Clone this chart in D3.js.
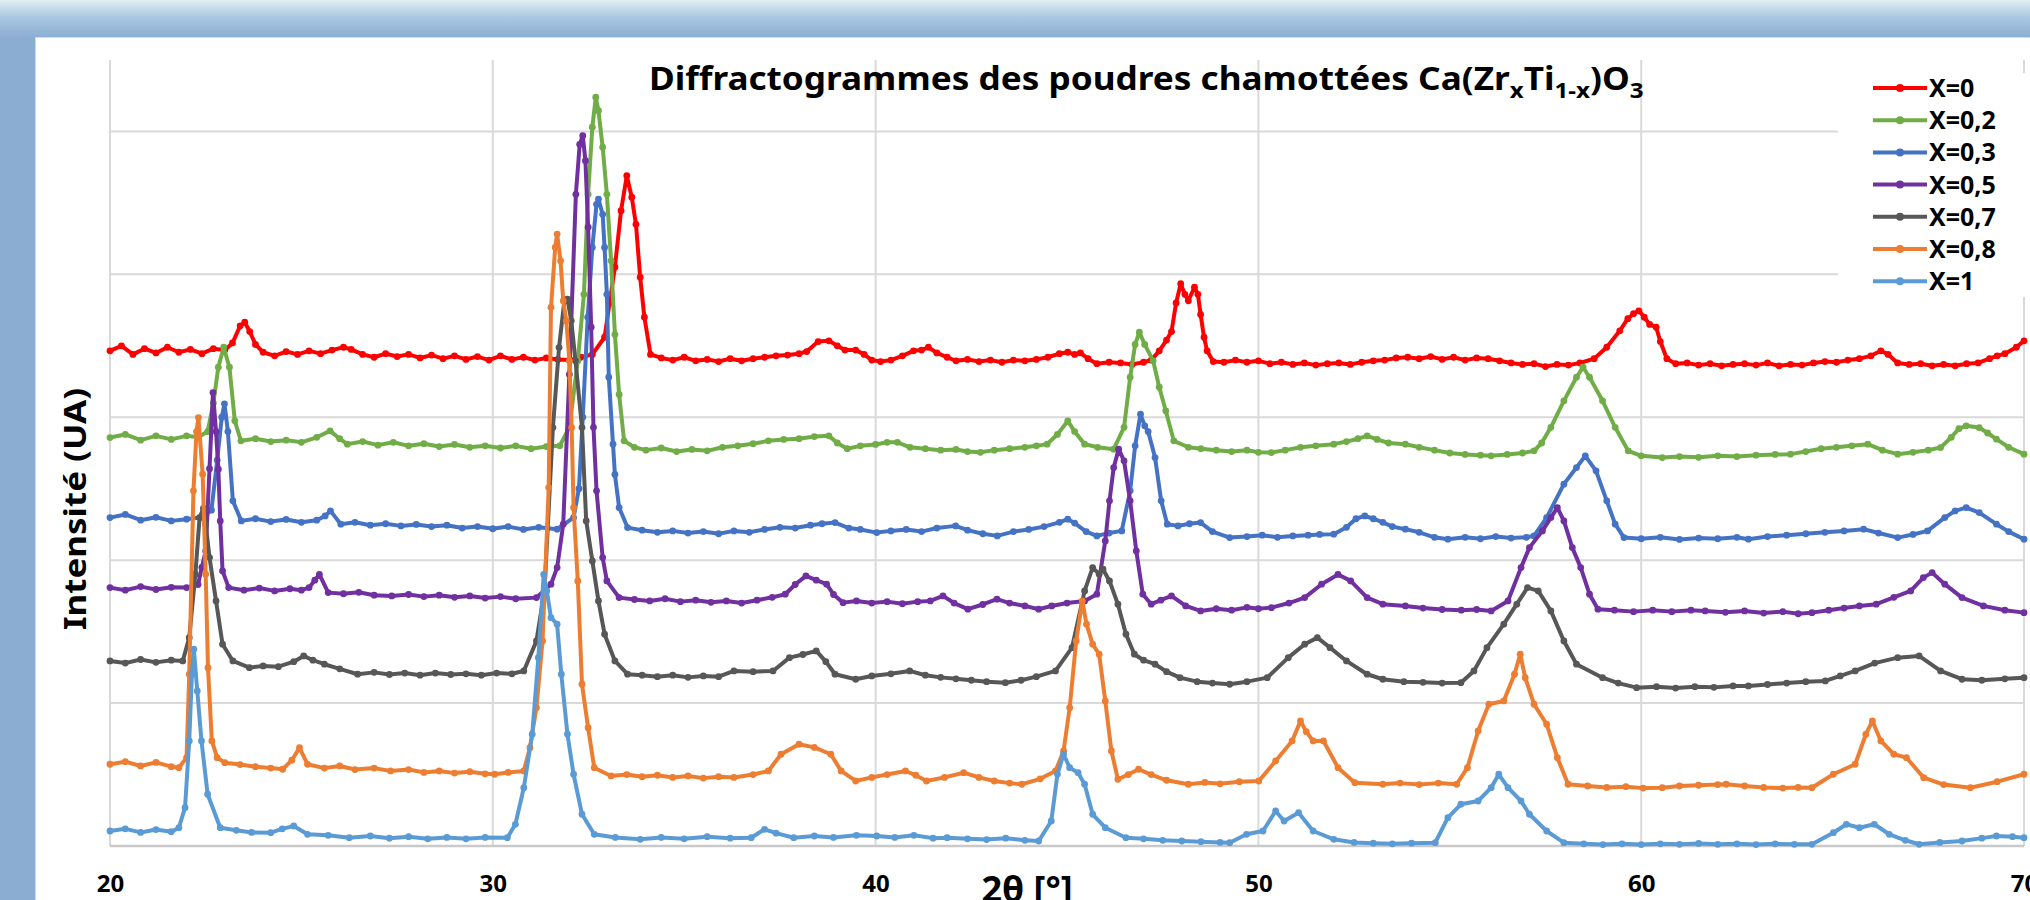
<!DOCTYPE html>
<html>
<head>
<meta charset="utf-8">
<script src="https://cdn.jsdelivr.net/npm/d3@7"></script>
<style>
  body { margin: 0; background: #8cadd2; }
  svg { display: block; }
  text { font-family: "Noto Sans", "Open Sans", sans-serif; }
</style>
</head>
<body>
<script>
// series labels + x tick values
var seriesLabels = ["X=0", "X=0,2", "X=0,3", "X=0,5", "X=0,7", "X=0,8", "X=1"];
var xTicks = [20, 30, 40, 50, 60, 70];

// [2theta, intensity (UA)]
var dataX0 = [[20.0,3465],[20.3,3500],[20.6,3440],[20.9,3480],[21.2,3450],[21.5,3490],[21.8,3455],[22.1,3475],[22.4,3445],[22.7,3480],[23.0,3470],[23.2,3520],[23.4,3640],[23.52,3665],[23.65,3600],[23.8,3510],[24.0,3455],[24.3,3430],[24.6,3460],[24.9,3440],[25.2,3465],[25.5,3445],[25.8,3470],[26.1,3490],[26.3,3475],[26.6,3440],[26.9,3420],[27.2,3445],[27.5,3425],[27.8,3440],[28.1,3415],[28.4,3435],[28.7,3410],[29.0,3430],[29.3,3405],[29.6,3425],[29.9,3400],[30.2,3430],[30.5,3405],[30.8,3420],[31.1,3400],[31.4,3415],[31.7,3405],[32.0,3400],[32.3,3420],[32.6,3440],[32.92,3560],[33.05,3800],[33.19,4050],[33.35,4445],[33.5,4690],[33.63,4540],[33.74,4350],[33.85,3980],[33.96,3700],[34.12,3440],[34.4,3415],[34.7,3400],[35.0,3420],[35.3,3395],[35.6,3405],[35.9,3390],[36.2,3410],[36.5,3395],[36.8,3410],[37.1,3420],[37.4,3430],[37.7,3435],[38.0,3445],[38.2,3460],[38.5,3530],[38.78,3535],[39.0,3500],[39.2,3470],[39.48,3470],[39.7,3440],[39.9,3400],[40.13,3390],[40.4,3400],[40.7,3430],[40.99,3465],[41.2,3470],[41.38,3490],[41.6,3450],[41.87,3420],[42.1,3395],[42.4,3405],[42.7,3390],[43.0,3400],[43.3,3385],[43.6,3400],[43.9,3395],[44.2,3405],[44.5,3420],[44.8,3445],[45.02,3455],[45.2,3440],[45.35,3450],[45.55,3410],[45.78,3375],[46.1,3385],[46.4,3380],[46.7,3370],[47.0,3385],[47.2,3400],[47.41,3465],[47.6,3540],[47.73,3600],[47.85,3800],[47.97,3935],[48.08,3860],[48.17,3815],[48.33,3910],[48.42,3860],[48.49,3720],[48.58,3560],[48.66,3465],[48.82,3390],[49.1,3385],[49.4,3400],[49.7,3385],[50.0,3395],[50.3,3375],[50.6,3385],[50.9,3370],[51.2,3380],[51.5,3365],[51.8,3375],[52.1,3380],[52.4,3370],[52.7,3385],[53.0,3395],[53.3,3400],[53.6,3415],[53.9,3420],[54.2,3410],[54.5,3425],[54.8,3405],[55.1,3420],[55.4,3400],[55.7,3415],[56.0,3410],[56.3,3395],[56.6,3380],[56.9,3370],[57.2,3375],[57.5,3355],[57.8,3370],[58.1,3365],[58.4,3380],[58.77,3410],[59.1,3490],[59.44,3605],[59.65,3690],[59.8,3725],[59.94,3745],[60.08,3700],[60.22,3650],[60.39,3630],[60.5,3530],[60.67,3410],[60.9,3375],[61.2,3380],[61.5,3365],[61.8,3375],[62.1,3360],[62.4,3370],[62.7,3375],[63.0,3365],[63.3,3380],[63.6,3360],[63.9,3370],[64.2,3365],[64.5,3380],[64.8,3390],[65.1,3385],[65.4,3400],[65.7,3410],[66.0,3430],[66.26,3465],[66.45,3440],[66.7,3380],[67.0,3370],[67.3,3375],[67.6,3360],[67.9,3370],[68.2,3360],[68.5,3375],[68.8,3380],[69.1,3410],[69.3,3430],[69.5,3445],[69.8,3490],[70.0,3535]];

var dataX02 = [[20.0,2858],[20.4,2880],[20.8,2840],[21.2,2870],[21.6,2845],[22.0,2870],[22.3,2860],[22.55,2900],[22.7,3100],[22.83,3350],[22.97,3490],[23.12,3350],[23.26,2975],[23.42,2835],[23.8,2850],[24.2,2830],[24.6,2840],[25.0,2825],[25.4,2860],[25.75,2905],[26.0,2850],[26.2,2812],[26.6,2830],[27.0,2805],[27.4,2825],[27.8,2800],[28.2,2815],[28.6,2795],[29.0,2810],[29.4,2790],[29.8,2800],[30.2,2785],[30.6,2800],[31.0,2780],[31.4,2795],[31.75,2800],[32.0,2930],[32.22,3395],[32.38,3860],[32.49,4560],[32.6,5030],[32.69,5240],[32.76,5145],[32.87,4890],[32.98,4560],[33.09,4095],[33.19,3580],[33.3,3160],[33.43,2835],[33.7,2790],[34.0,2770],[34.4,2785],[34.8,2760],[35.2,2775],[35.6,2765],[36.0,2790],[36.4,2800],[36.8,2815],[37.2,2835],[37.6,2845],[38.0,2850],[38.4,2865],[38.78,2870],[39.0,2820],[39.26,2780],[39.6,2800],[40.0,2810],[40.3,2825],[40.57,2825],[40.9,2790],[41.3,2780],[41.7,2770],[42.1,2775],[42.4,2760],[42.74,2755],[43.1,2770],[43.5,2780],[43.9,2790],[44.2,2800],[44.48,2812],[44.75,2880],[45.02,2975],[45.2,2900],[45.46,2812],[45.8,2790],[46.22,2777],[46.49,2930],[46.65,3280],[46.78,3510],[46.89,3595],[47.03,3510],[47.25,3395],[47.41,3210],[47.58,3045],[47.79,2835],[48.17,2790],[48.5,2780],[48.9,2770],[49.3,2760],[49.7,2770],[50.0,2755],[50.34,2753],[50.7,2770],[51.1,2790],[51.5,2800],[51.97,2812],[52.3,2830],[52.6,2850],[52.84,2870],[53.1,2845],[53.4,2820],[53.84,2812],[54.2,2790],[54.6,2770],[55.0,2750],[55.4,2740],[55.8,2735],[56.08,2730],[56.5,2740],[56.9,2750],[57.2,2765],[57.4,2820],[57.64,2930],[57.98,3115],[58.31,3280],[58.48,3350],[58.65,3280],[58.99,3115],[59.32,2930],[59.66,2765],[60.0,2730],[60.55,2718],[61.0,2725],[61.5,2720],[62.0,2730],[62.5,2725],[63.0,2735],[63.5,2740],[63.9,2742],[64.3,2760],[64.7,2780],[65.1,2790],[65.5,2800],[65.92,2812],[66.3,2770],[66.7,2742],[67.1,2755],[67.5,2770],[67.82,2788],[68.1,2860],[68.3,2920],[68.49,2940],[68.83,2928],[69.05,2890],[69.28,2847],[69.6,2790],[70.0,2742]];

var dataX03 = [[20.0,2298],[20.4,2320],[20.8,2280],[21.2,2300],[21.6,2275],[22.0,2287],[22.4,2300],[22.65,2350],[22.8,2700],[22.92,3000],[22.99,3094],[23.08,2900],[23.21,2415],[23.43,2275],[23.8,2290],[24.2,2270],[24.6,2285],[25.0,2265],[25.4,2280],[25.62,2310],[25.76,2345],[26.03,2252],[26.4,2265],[26.8,2245],[27.2,2255],[27.6,2240],[28.0,2250],[28.4,2235],[28.8,2245],[29.2,2225],[29.6,2235],[30.0,2220],[30.4,2235],[30.8,2215],[31.2,2230],[31.68,2217],[32.11,2298],[32.25,2500],[32.35,3000],[32.48,3700],[32.6,4188],[32.71,4490],[32.76,4527],[32.87,4420],[32.92,4188],[32.98,3860],[33.03,3280],[33.14,2812],[33.19,2600],[33.3,2368],[33.52,2228],[33.9,2210],[34.3,2195],[34.7,2205],[35.1,2190],[35.5,2200],[35.9,2185],[36.3,2205],[36.7,2195],[37.1,2215],[37.5,2230],[37.9,2225],[38.3,2245],[38.6,2255],[38.94,2263],[39.3,2225],[39.6,2215],[40.03,2193],[40.4,2205],[40.8,2215],[41.2,2200],[41.6,2225],[42.09,2240],[42.4,2210],[42.8,2185],[43.18,2170],[43.6,2200],[44.0,2215],[44.4,2235],[44.8,2265],[45.02,2287],[45.2,2260],[45.5,2200],[45.78,2170],[46.1,2190],[46.43,2205],[46.65,2485],[46.78,2800],[46.92,3022],[47.03,2940],[47.12,2900],[47.3,2718],[47.46,2415],[47.62,2252],[47.9,2240],[48.2,2255],[48.49,2263],[48.8,2200],[49.25,2158],[49.7,2165],[50.1,2175],[50.5,2160],[50.9,2170],[51.3,2175],[51.6,2180],[51.97,2182],[52.3,2230],[52.55,2290],[52.78,2310],[53.0,2290],[53.25,2265],[53.5,2235],[53.84,2217],[54.2,2195],[54.6,2160],[54.95,2147],[55.4,2160],[55.8,2150],[56.2,2165],[56.6,2155],[57.0,2160],[57.2,2170],[57.53,2298],[57.98,2532],[58.31,2648],[58.54,2730],[58.82,2625],[59.1,2415],[59.32,2252],[59.55,2158],[60.0,2150],[60.5,2160],[61.0,2145],[61.5,2155],[62.0,2150],[62.5,2160],[62.8,2147],[63.3,2165],[63.8,2175],[64.3,2185],[64.8,2195],[65.3,2205],[65.81,2217],[66.2,2190],[66.7,2158],[67.1,2180],[67.48,2205],[67.93,2298],[68.2,2345],[68.49,2368],[68.83,2333],[69.28,2252],[69.6,2200],[70.0,2147]];

var dataX05 = [[20.0,1808],[20.4,1790],[20.8,1815],[21.2,1795],[21.6,1810],[22.0,1808],[22.3,1830],[22.4,1950],[22.5,2065],[22.6,2640],[22.69,3173],[22.77,2900],[22.83,2637],[22.88,2275],[22.94,1925],[23.1,1808],[23.5,1790],[23.9,1805],[24.3,1785],[24.7,1800],[25.0,1790],[25.2,1808],[25.35,1860],[25.47,1900],[25.7,1773],[26.1,1765],[26.5,1775],[26.9,1755],[27.36,1750],[27.8,1760],[28.2,1745],[28.6,1755],[29.0,1740],[29.4,1750],[29.8,1735],[30.2,1745],[30.6,1730],[31.14,1738],[31.52,1832],[31.68,1948],[31.84,2252],[32.0,3300],[32.17,4560],[32.27,4910],[32.35,4970],[32.42,4795],[32.49,4330],[32.57,3630],[32.63,2930],[32.71,2485],[32.87,2018],[32.98,1855],[33.3,1738],[33.7,1725],[34.1,1715],[34.5,1730],[34.9,1710],[35.3,1720],[35.7,1705],[36.1,1715],[36.5,1700],[36.9,1720],[37.3,1740],[37.64,1762],[37.9,1830],[38.18,1890],[38.45,1860],[38.72,1832],[38.9,1760],[39.15,1703],[39.5,1715],[39.9,1700],[40.3,1710],[40.7,1695],[41.1,1710],[41.43,1715],[41.76,1750],[42.05,1700],[42.41,1657],[42.8,1690],[43.17,1727],[43.5,1700],[43.9,1680],[44.26,1657],[44.6,1680],[45.0,1700],[45.46,1715],[45.78,1762],[46.0,2135],[46.11,2415],[46.22,2648],[46.35,2777],[46.49,2695],[46.65,2415],[46.81,2065],[46.98,1762],[47.2,1692],[47.45,1720],[47.73,1750],[48.1,1680],[48.49,1645],[48.9,1660],[49.3,1650],[49.7,1670],[50.0,1660],[50.34,1668],[50.8,1700],[51.21,1738],[51.65,1832],[52.08,1900],[52.41,1855],[52.84,1738],[53.25,1692],[53.84,1680],[54.3,1665],[54.8,1655],[55.3,1650],[55.7,1655],[56.08,1645],[56.52,1715],[56.86,1948],[57.08,2088],[57.42,2205],[57.64,2298],[57.81,2368],[57.98,2275],[58.2,2088],[58.42,1948],[58.65,1762],[58.87,1657],[59.3,1650],[59.8,1640],[60.3,1650],[60.8,1640],[61.3,1650],[61.67,1645],[62.2,1635],[62.7,1645],[63.2,1630],[63.7,1640],[64.1,1625],[64.46,1633],[64.9,1650],[65.3,1665],[65.7,1680],[66.14,1692],[66.6,1740],[67.04,1785],[67.37,1878],[67.6,1913],[67.93,1832],[68.38,1738],[68.94,1680],[69.5,1650],[70.0,1633]];

var dataX07 = [[20.0,1295],[20.4,1280],[20.8,1305],[21.2,1285],[21.6,1300],[21.9,1295],[22.07,1458],[22.23,1902],[22.34,2298],[22.44,2362],[22.5,2252],[22.6,2018],[22.77,1715],[22.94,1412],[23.21,1295],[23.64,1248],[24.0,1260],[24.4,1255],[24.8,1290],[25.06,1330],[25.3,1300],[25.6,1272],[26.0,1240],[26.47,1202],[26.9,1215],[27.3,1200],[27.7,1210],[28.1,1195],[28.5,1210],[28.9,1200],[29.3,1205],[29.7,1195],[30.1,1210],[30.5,1205],[30.81,1225],[31.14,1435],[31.35,1785],[31.57,2928],[31.73,3488],[31.87,3815],[31.95,3827],[32.05,3675],[32.16,3395],[32.33,2928],[32.44,2275],[32.6,1995],[32.76,1715],[32.92,1482],[33.19,1295],[33.52,1202],[33.9,1195],[34.3,1185],[34.7,1195],[35.1,1180],[35.5,1190],[35.9,1185],[36.3,1225],[36.8,1220],[37.32,1225],[37.75,1318],[38.1,1340],[38.45,1365],[38.7,1290],[38.94,1202],[39.48,1167],[39.9,1190],[40.4,1205],[40.89,1225],[41.3,1195],[41.7,1180],[42.1,1170],[42.5,1160],[42.9,1150],[43.39,1143],[43.8,1160],[44.2,1185],[44.7,1225],[45.13,1388],[45.46,1785],[45.67,1948],[45.84,1902],[45.94,1937],[46.11,1855],[46.33,1692],[46.54,1482],[46.76,1342],[47.0,1300],[47.3,1272],[47.6,1220],[47.95,1178],[48.4,1150],[48.8,1140],[49.25,1132],[49.7,1150],[50.23,1178],[50.78,1318],[51.21,1412],[51.54,1458],[51.87,1388],[52.3,1295],[52.84,1202],[53.25,1167],[53.8,1150],[54.3,1145],[54.8,1140],[55.29,1143],[55.63,1225],[55.97,1388],[56.41,1552],[56.75,1692],[57.03,1808],[57.31,1785],[57.64,1645],[57.98,1435],[58.31,1272],[58.99,1178],[59.4,1140],[59.88,1108],[60.4,1115],[60.9,1105],[61.4,1115],[61.9,1110],[62.4,1120],[62.8,1120],[63.3,1130],[63.8,1140],[64.3,1150],[64.81,1155],[65.2,1190],[65.59,1225],[66.1,1280],[66.7,1318],[67.26,1330],[67.82,1225],[68.38,1167],[68.9,1160],[69.5,1170],[70.0,1178]];

var dataX08 = [[20.0,572],[20.4,590],[20.8,560],[21.2,585],[21.6,555],[21.8,548],[22.0,618],[22.07,1202],[22.18,2485],[22.26,2900],[22.31,2998],[22.42,2602],[22.5,1902],[22.56,1248],[22.66,735],[22.8,618],[23.0,583],[23.4,570],[23.8,555],[24.2,545],[24.51,537],[24.75,600],[24.95,688],[25.16,572],[25.6,545],[26.0,560],[26.4,535],[26.9,545],[27.33,525],[27.8,535],[28.2,515],[28.6,525],[29.0,510],[29.4,520],[29.8,505],[30.05,502],[30.4,515],[30.81,525],[30.97,688],[31.14,968],[31.3,1435],[31.46,2508],[31.52,3768],[31.63,4188],[31.68,4282],[31.77,4095],[31.84,3815],[31.92,3675],[32.0,3395],[32.06,2928],[32.11,2368],[32.22,1855],[32.33,1132],[32.49,828],[32.65,548],[33.09,490],[33.5,500],[33.9,485],[34.3,495],[34.7,480],[35.1,490],[35.5,475],[35.9,485],[36.3,480],[36.8,500],[37.2,525],[37.53,642],[38.0,712],[38.4,690],[38.83,642],[39.1,525],[39.48,455],[39.9,480],[40.3,500],[40.78,525],[41.05,495],[41.33,455],[41.8,480],[42.3,513],[42.7,480],[43.1,455],[43.5,440],[43.82,432],[44.3,470],[44.7,525],[44.91,665],[45.07,968],[45.24,1435],[45.4,1715],[45.51,1552],[45.67,1412],[45.84,1342],[46.0,1015],[46.16,665],[46.33,467],[46.6,500],[46.87,537],[47.2,500],[47.6,460],[48.17,432],[48.6,445],[49.0,435],[49.5,450],[50.01,455],[50.45,595],[50.88,735],[51.1,875],[51.25,800],[51.43,735],[51.7,735],[52.08,548],[52.52,443],[53.25,432],[53.7,440],[54.2,430],[54.7,440],[55.18,432],[55.46,548],[55.74,805],[56.02,992],[56.41,1015],[56.69,1202],[56.84,1342],[56.97,1178],[57.2,992],[57.53,852],[57.81,618],[58.09,432],[58.6,420],[59.1,410],[59.6,415],[60.05,405],[60.55,408],[61.0,420],[61.5,425],[62.0,430],[62.22,432],[62.7,420],[63.2,410],[63.7,405],[64.1,410],[64.46,408],[65.02,502],[65.59,572],[65.87,782],[66.04,875],[66.26,735],[66.6,642],[66.93,618],[67.38,478],[67.9,430],[68.6,408],[69.3,450],[70.0,502]];

var dataX1 = [[20.0,105],[20.4,120],[20.8,95],[21.2,115],[21.6,100],[21.8,128],[21.96,268],[22.07,735],[22.14,1202],[22.19,1377],[22.28,1085],[22.39,735],[22.55,362],[22.88,128],[23.3,110],[23.7,95],[24.2,93],[24.5,120],[24.8,140],[25.16,82],[25.7,75],[26.25,58],[26.8,70],[27.3,55],[27.8,65],[28.3,50],[28.8,60],[29.3,50],[29.8,60],[30.38,58],[30.59,152],[30.81,408],[31.03,782],[31.19,1318],[31.33,1900],[31.41,1785],[31.52,1598],[31.68,1552],[31.79,1202],[31.95,782],[32.11,502],[32.33,222],[32.65,82],[33.2,60],[33.85,47],[34.4,60],[35.0,50],[35.6,65],[36.2,55],[36.75,58],[37.1,117],[37.4,90],[37.86,58],[38.4,70],[38.9,60],[39.5,75],[40.03,70],[40.5,60],[41.0,75],[41.5,55],[41.87,58],[42.4,50],[42.9,45],[43.4,55],[43.9,40],[44.26,35],[44.59,175],[44.75,502],[44.91,642],[45.07,548],[45.29,513],[45.46,432],[45.67,222],[46.0,128],[46.54,58],[47.0,50],[47.5,40],[48.0,35],[48.5,30],[49.0,25],[49.25,23],[49.69,82],[50.12,105],[50.45,245],[50.67,175],[51.05,233],[51.43,105],[51.97,47],[52.5,25],[53.0,20],[53.5,15],[54.0,20],[54.62,23],[54.95,198],[55.29,292],[55.74,315],[56.08,408],[56.28,502],[56.52,408],[56.86,315],[57.08,222],[57.53,105],[57.98,23],[58.5,15],[59.0,10],[59.5,15],[60.0,10],[60.5,15],[61.0,12],[61.5,18],[62.0,12],[62.5,15],[63.0,10],[63.5,15],[64.0,12],[64.46,12],[65.02,93],[65.36,152],[65.7,128],[66.09,152],[66.48,82],[66.9,40],[67.26,12],[67.8,25],[68.38,35],[68.9,55],[69.28,70],[69.7,65],[70.0,58]];

var seriesData = [dataX0, dataX02, dataX03, dataX05, dataX07, dataX08, dataX1];
var seriesColors = ["#ff0000", "#70ad47", "#4472c4", "#7030a0", "#575757", "#ed7d31", "#5b9bd5"];

var width = 2030, height = 900;
var plot = { left: 110, right: 2024, top: 60, bottom: 846 };

var svg = d3.select("body").append("svg")
    .attr("width", width)
    .attr("height", height);

// blue frame with the light band on top
var defs = svg.append("defs");
var grad = defs.append("linearGradient").attr("id", "topband")
    .attr("x1", 0).attr("y1", 0).attr("x2", 0).attr("y2", 1);
grad.append("stop").attr("offset", "0%").attr("stop-color", "#e2eff1");
grad.append("stop").attr("offset", "45%").attr("stop-color", "#a9c8e3");
grad.append("stop").attr("offset", "100%").attr("stop-color", "#8cadd2");

svg.append("rect").attr("width", width).attr("height", height).attr("fill", "#8cadd2");
svg.append("rect").attr("width", width).attr("height", 38).attr("fill", "url(#topband)");

// white chart panel
svg.append("rect")
    .attr("x", 35.5).attr("y", 37.5)
    .attr("width", width).attr("height", height)
    .attr("fill", "#fff")
    .attr("stroke", "#d9d9d9");

var x = d3.scaleLinear().domain([20, 70]).range([plot.left, plot.right]);
var y = d3.scaleLinear().domain([0, 5500]).range([plot.bottom, plot.top]);

// grid
var grid = svg.append("g").attr("class", "grid");
grid.selectAll("line.v")
    .data(xTicks)
    .enter().append("line").attr("class", "v")
    .attr("x1", function(d) { return x(d); })
    .attr("x2", function(d) { return x(d); })
    .attr("y1", plot.top)
    .attr("y2", plot.bottom)
    .attr("stroke", "#d9d9d9").attr("stroke-width", 2);

grid.selectAll("line.h")
    .data(d3.range(1000, 5001, 1000))
    .enter().append("line").attr("class", "h")
    .attr("x1", plot.left)
    .attr("x2", plot.right)
    .attr("y1", function(d) { return y(d); })
    .attr("y2", function(d) { return y(d); })
    .attr("stroke", "#d9d9d9").attr("stroke-width", 2);

// bottom axis line
svg.append("line")
    .attr("x1", plot.left).attr("x2", plot.right)
    .attr("y1", y(0)).attr("y2", y(0))
    .attr("stroke", "#c9c9c9").attr("stroke-width", 2.5);

// x tick labels
var xAxis = svg.append("g")
    .attr("transform", "translate(0," + y(0) + ")")
    .call(d3.axisBottom(x).tickValues(xTicks).tickSize(0).tickFormat(d3.format("d")));
xAxis.select(".domain").remove();
xAxis.selectAll("text")
    .attr("y", 46).attr("dy", 0)
    .attr("fill", "#000")
    .style("font-size", "24px")
    .style("font-weight", "bold")
    .style("font-family", "'Noto Sans', sans-serif");

// legend background (hides the grid behind it)
var legend = svg.append("g").attr("class", "legend");
legend.append("rect")
    .attr("x", 1838).attr("y", 73)
    .attr("width", 200).attr("height", 224)
    .attr("fill", "#fff");

// series
var line = d3.line()
    .x(function(d) { return x(d[0]); })
    .y(function(d) { return y(d[1]); });

var series = svg.append("g").attr("class", "series")
    .selectAll("g")
    .data(seriesData)
    .enter().append("g")
    .attr("fill", function(d, i) { return seriesColors[i]; })
    .attr("stroke", function(d, i) { return seriesColors[i]; });

series.append("path")
    .attr("d", line)
    .attr("fill", "none")
    .attr("stroke-width", 4)
    .attr("stroke-linejoin", "round");

series.selectAll("circle")
    .data(function(d) { return d; })
    .enter().append("circle")
    .attr("cx", function(d) { return x(d[0]); })
    .attr("cy", function(d) { return y(d[1]); })
    .attr("r", 3.4)
    .attr("stroke", "none");

// legend entries
var items = legend.selectAll("g.item")
    .data(seriesLabels)
    .enter().append("g").attr("class", "item")
    .attr("transform", function(d, i) { return "translate(0," + (88 + i * 32.2) + ")"; });

items.append("line")
    .attr("x1", 1873).attr("x2", 1927)
    .attr("stroke", function(d, i) { return seriesColors[i]; })
    .attr("stroke-width", 4);
items.append("circle")
    .attr("cx", 1900).attr("r", 4)
    .attr("fill", function(d, i) { return seriesColors[i]; });
items.append("text")
    .attr("x", 1929).attr("dy", "0.36em")
    .style("font-size", "25px").style("font-weight", "bold")
    .text(function(d) { return d; });

// title, squeezed to the width of the original
var title = svg.append("text")
    .style("font-size", "32px").style("font-weight", "bold");
title.append("tspan").text("Diffractogrammes des poudres chamottées Ca(Zr");
title.append("tspan").attr("dy", 8).style("font-size", "22px").text("x");
title.append("tspan").attr("dy", -8).text("Ti");
title.append("tspan").attr("dy", 8).style("font-size", "22px").text("1-x");
title.append("tspan").attr("dy", -8).text(")O");
title.append("tspan").attr("dy", 8).style("font-size", "22px").text("3");
var tw = title.node().getBBox().width;
title.attr("transform", "translate(649,90) scale(" + (995 / tw) + ",1)");

// axis titles
svg.append("text")
    .attr("transform", "translate(86,509) rotate(-90)")
    .attr("text-anchor", "middle")
    .attr("textLength", 242).attr("lengthAdjust", "spacingAndGlyphs")
    .style("font-size", "31px").style("font-weight", "bold")
    .text("Intensité (UA)");

svg.append("text")
    .attr("x", 1027).attr("y", 902)
    .attr("text-anchor", "middle")
    .style("font-size", "36px").style("font-weight", "bold")
    .text("2θ [°]");
</script>
</body>
</html>
